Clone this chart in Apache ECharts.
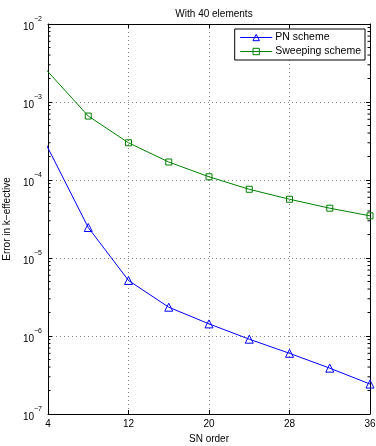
<!DOCTYPE html>
<html>
<head>
<meta charset="utf-8">
<script src="https://cdn.jsdelivr.net/npm/echarts@6/dist/echarts.min.js"></script>
<style>
  html, body { margin: 0; padding: 0; background: #fff; }
  #chart { width: 376px; height: 446px; }
</style>
</head>
<body>
<div id="chart"></div>
<script>
// SN orders on the x axis (the S2 point lies left of the visible range, only its line shows)
const snOrder = [2, 8, 12, 16, 20, 24, 28, 32, 36]
// error in k-effective
const pnError = [8.3e-4, 2.46e-5, 5.15e-6, 2.34e-6, 1.43e-6, 9.1e-7, 6.0e-7, 3.87e-7, 2.42e-7]
const sweepError = [4.7e-3, 6.6e-4, 3.0e-4, 1.7e-4, 1.1e-4, 7.6e-5, 5.67e-5, 4.35e-5, 3.47e-5]

const font = 'Liberation Sans, Arial, Helvetica, sans-serif'
const blue = '#0000ff'
const green = '#008000'
const sup = (v) => {
  const e = Math.round(Math.log10(v))
  return '{b|10}{s|' + (e < 0 ? '\u2212' + (-e) : e) + '}'
}

let myChart = echarts.init(document.getElementById('chart'))

const gridLine = { show: true, lineStyle: { color: '#555', width: 0.7, type: [1, 3] } }
const axLine = { show: true, lineStyle: { color: '#000', width: 1 } }
const inTick = { show: true, inside: true, length: 4, lineStyle: { color: '#000' } }
const hollow = (c) => ({ color: 'rgba(255,255,255,0)', borderColor: c, borderWidth: 1 })

const toData = (ys) => snOrder.map((x, i) => x < 4 ? { value: [x, ys[i]], symbol: 'none' } : [x, ys[i]])

let option = {
  animation: false,
  textStyle: { fontFamily: font },
  title: {
    text: 'With 40 elements',
    left: 209,
    textAlign: 'center',
    top: 4,
    textStyle: { fontSize: 10, fontWeight: 'normal', color: '#000', fontFamily: font }
  },
  grid: { left: 48, right: 6, top: 24, bottom: 32, outerBoundsMode: 'none', containLabel: false },
  legend: {
    orient: 'vertical',
    right: 11,
    top: 29,
    itemWidth: 32,
    itemHeight: 8,
    itemGap: 3,
    padding: [3, 4, 3, 5],
    borderColor: '#000',
    borderWidth: 1,
    backgroundColor: '#fff',
    textStyle: { fontSize: 10.5, color: '#000', fontFamily: font, padding: [0, 0, 0, -2] },
    data: [
      { name: 'PN scheme', itemStyle: hollow(blue), lineStyle: { color: blue, width: 1 } },
      { name: 'Sweeping scheme', itemStyle: hollow(green), lineStyle: { color: green, width: 1 } }
    ]
  },
  xAxis: [{
    type: 'value',
    min: 4,
    max: 36,
    interval: 8,
    name: 'SN order',
    nameLocation: 'middle',
    nameGap: 17,
    nameTextStyle: { fontSize: 10, color: '#000', fontFamily: font },
    axisLine: axLine,
    axisTick: inTick,
    axisLabel: { fontSize: 10, color: '#000', margin: 5, fontFamily: font },
    splitLine: gridLine
  }, {
    type: 'value',
    position: 'top',
    min: 4,
    max: 36,
    interval: 8,
    axisLine: axLine,
    axisTick: inTick,
    axisLabel: { show: false },
    splitLine: { show: false }
  }],
  yAxis: [{
    type: 'log',
    logBase: 10,
    min: 1e-7,
    max: 1e-2,
    interval: 1,
    name: 'Error in k\u2212effective',
    nameLocation: 'middle',
    nameGap: 32,
    nameTextStyle: { fontSize: 10, color: '#000', fontFamily: font },
    axisLine: axLine,
    axisTick: inTick,
    axisLabel: {
      margin: 6,
      formatter: sup,
      rich: {
        b: { fontSize: 10, color: '#000', fontFamily: font, padding: [6, 0, 0, 0] },
        s: { fontSize: 7, color: '#000', fontFamily: font, verticalAlign: 'top', padding: [0, 0, 6, 0] }
      }
    },
    splitLine: gridLine
  }, {
    type: 'log',
    logBase: 10,
    min: 1e-7,
    max: 1e-2,
    interval: 1,
    position: 'right',
    axisLine: axLine,
    axisTick: inTick,
    axisLabel: { show: false },
    splitLine: { show: false }
  }],
  series: [{
    name: 'PN scheme',
    type: 'line',
    clip: true,
    data: toData(pnError),
    symbol: 'triangle',
    symbolSize: 8,
    lineStyle: { color: blue, width: 1 },
    itemStyle: hollow(blue),
    z: 3
  }, {
    name: 'Sweeping scheme',
    type: 'line',
    clip: true,
    data: toData(sweepError),
    symbol: 'rect',
    symbolSize: 6,
    lineStyle: { color: green, width: 1 },
    itemStyle: hollow(green),
    z: 3
  }]
}
myChart.setOption(option, true)

// minor log ticks (2..9 per decade) on left and right edges
let minor = []
const xl = myChart.convertToPixel({ xAxisIndex: 0 }, 4)
const xr = myChart.convertToPixel({ xAxisIndex: 0 }, 36)
for (let e = -7; e < -2; e++) {
  for (let m = 2; m < 10; m++) {
    const y = myChart.convertToPixel({ yAxisIndex: 0 }, m * Math.pow(10, e))
    minor.push({ type: 'line', shape: { x1: xl, y1: y, x2: xl + 2.5, y2: y }, style: { stroke: '#000', lineWidth: 1 } })
    minor.push({ type: 'line', shape: { x1: xr - 2.5, y1: y, x2: xr, y2: y }, style: { stroke: '#000', lineWidth: 1 } })
  }
}
myChart.setOption({ graphic: minor })
</script>
</body>
</html>
